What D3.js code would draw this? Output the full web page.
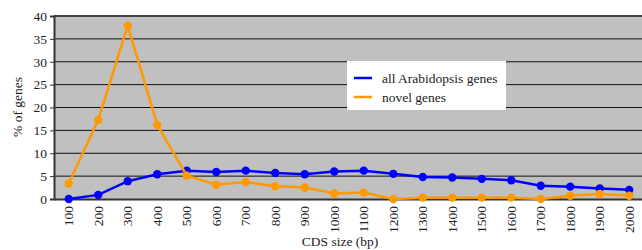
<!DOCTYPE html>
<html><head><meta charset="utf-8">
<script src="https://cdn.jsdelivr.net/npm/d3@7"></script>
<style>body{margin:0;background:#fff;} svg{display:block;}</style>
</head><body>
<svg id="c" width="642" height="250"></svg>
<script>
const categories = ["100","200","300","400","500","600","700","800","900","1000","1100","1200","1300","1400","1500","1600","1700","1800","1900","2000"];
const allGenes = [0,0.9,3.9,5.4,6.2,5.9,6.2,5.7,5.4,6.0,6.2,5.5,4.8,4.7,4.4,4.1,2.9,2.7,2.3,2.0];
const novelGenes = [3.4,17.3,37.9,16.2,5.1,3.1,3.7,2.8,2.5,1.2,1.4,0,0.3,0.3,0.3,0.3,0,0.7,1.1,0.7];
const yTicks = [0,5,10,15,20,25,30,35,40];
const seriesNames = ["all Arabidopsis genes","novel genes"];
const colors = ["#0000ff","#ff9900"];
const FONT = "'Liberation Serif', Tinos, 'Times New Roman', 'DejaVu Serif', serif";

const svg = d3.select("#c");
const L = 54, R = 644, T = 16, B = 199;
const x = d3.scaleBand().domain(categories).range([L, R]);
const y = d3.scaleLinear().domain([0, 40]).range([B, T]);

svg.append("rect").attr("x", L).attr("y", T).attr("width", R - L).attr("height", B - T).attr("fill", "#c0c0c0");
svg.append("g").selectAll("line").data(yTicks.slice(1)).join("line")
  .attr("x1", L).attr("x2", R).attr("y1", d => y(d)).attr("y2", d => y(d))
  .attr("stroke", d => d === 40 ? "#444" : "#111").attr("stroke-width", d => d === 40 ? 2 : 1);

const ya = svg.append("g").attr("transform", `translate(${L},0)`)
  .call(d3.axisLeft(y).tickValues(yTicks).tickSize(4).tickPadding(3));
ya.attr("font-family", null);
ya.select(".domain").attr("stroke", "#333").attr("stroke-width", 2);
ya.selectAll("line").attr("stroke", "#333");
ya.selectAll("text").style("font-family", FONT).style("font-size", "13.5px").attr("fill", "#222");

const xa = svg.append("g").attr("transform", `translate(0,${B})`)
  .call(d3.axisBottom(x).tickSize(0).tickPadding(0));
xa.attr("font-family", null);
xa.select(".domain").attr("stroke", "#333").attr("stroke-width", 2);
xa.selectAll("text").style("font-family", FONT).style("font-size", "13.5px").attr("fill", "#222")
  .attr("transform", "rotate(-90)").attr("text-anchor", "end").attr("x", -7).attr("y", 0).attr("dy", "0.35em");

const line = d3.line().x((d, i) => x(categories[i]) + x.bandwidth() / 2).y(d => y(d));
[allGenes, novelGenes].forEach((s, k) => {
  const g = svg.append("g");
  g.append("path").datum(s).attr("d", line).attr("fill", "none").attr("stroke", colors[k]).attr("stroke-width", 2.5);
  g.selectAll("circle").data(s).join("circle")
    .attr("cx", (d, i) => x(categories[i]) + x.bandwidth() / 2).attr("cy", d => y(d)).attr("r", 4.2).attr("fill", colors[k]);
});

// legend
const lg = svg.append("g");
lg.append("rect").attr("x", 347).attr("y", 61).attr("width", 159).attr("height", 49).attr("fill", "#fff");
seriesNames.forEach((n, k) => {
  const yy = 78 + k * 19;
  lg.append("line").attr("x1", 354).attr("x2", 372).attr("y1", yy).attr("y2", yy).attr("stroke", colors[k]).attr("stroke-width", 2.5);
  lg.append("text").attr("x", 382).attr("y", yy).attr("dy", "0.35em").style("font-family", FONT).style("font-size", "13.5px").attr("fill", "#222").text(n);
});

svg.append("text").attr("transform", "translate(22,107) rotate(-90)").attr("text-anchor", "middle").style("font-family", FONT).style("font-size", "13.5px").attr("fill", "#222").text("% of genes");
svg.append("text").attr("x", 340).attr("y", 246).attr("text-anchor", "middle").style("font-family", FONT).style("font-size", "13.5px").attr("fill", "#222").text("CDS size (bp)");
</script>
</body></html>
